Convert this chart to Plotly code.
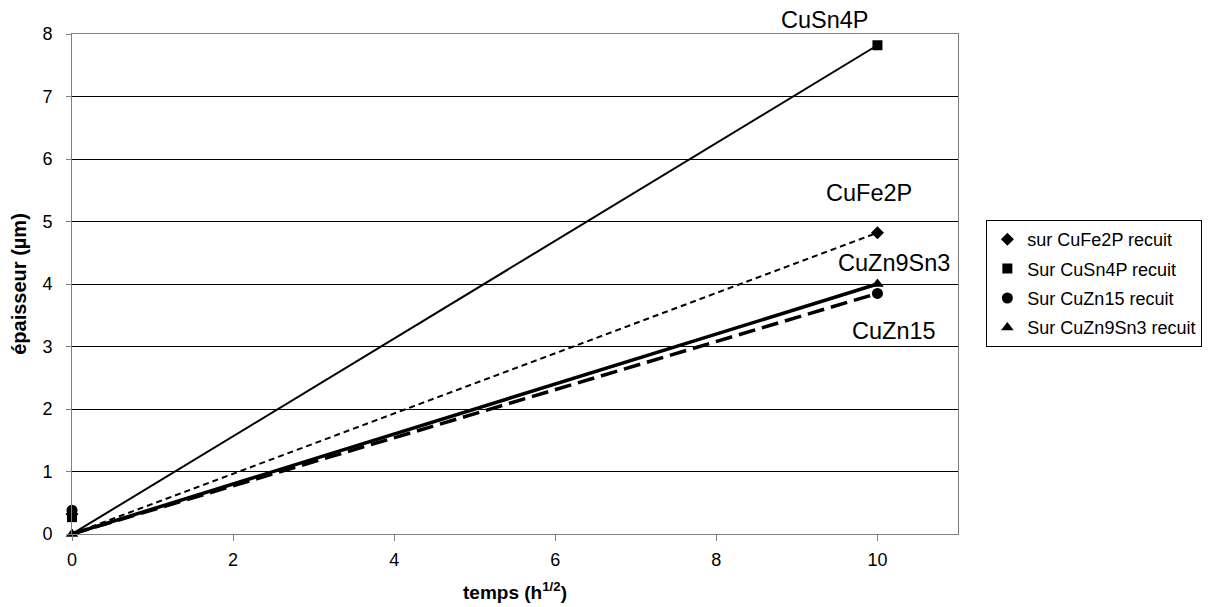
import plotly.graph_objects as go

# Data
series_names = ["sur CuFe2P recuit", "Sur CuSn4P recuit", "Sur CuZn15 recuit", "Sur CuZn9Sn3 recuit"]
short_labels = ["CuFe2P", "CuSn4P", "CuZn15", "CuZn9Sn3"]
x_points = [0, 10]
y_start = [0.32, 0.27, 0.38, 0.0]
y_end = [4.82, 7.82, 3.85, 4.0]
trend_x = [0, 10]
trend_start = [0, 0, 0, 0]

symbols = ["diamond", "square", "circle", "triangle-up"]
marker_sizes = [10, 10, 11, 11]
line_widths = [2, 2, 3.5, 3.5]
line_dashes = ["6px,4px", "solid", "17px,7px", "solid"]

# label positions: (x data, y paper)
label_pos = [(9.89, 0.682), (9.35, 1.028), (10.2, 0.406), (10.2, 0.542)]

FONT = "Liberation Sans, Arial, sans-serif"

fig = go.Figure()

for i, name in enumerate(series_names):
    fig.add_trace(go.Scatter(
        x=trend_x, y=[trend_start[i], y_end[i]], mode="lines",
        line=dict(color="black", width=line_widths[i], dash=line_dashes[i]),
        showlegend=False, hoverinfo="skip", cliponaxis=False))

for i, name in enumerate(series_names):
    fig.add_trace(go.Scatter(
        x=x_points, y=[y_start[i], y_end[i]], mode="markers", name=name,
        marker=dict(symbol=symbols[i], color="black", size=marker_sizes[i]),
        legendgroup=f"g{i}", cliponaxis=False))

for i, lab in enumerate(short_labels):
    fig.add_annotation(x=label_pos[i][0], y=label_pos[i][1], xref="x", yref="paper",
                       text=lab, showarrow=False,
                       xanchor="center", yanchor="middle",
                       font=dict(family=FONT, size=23.5, color="black"))

fig.update_layout(
    width=1203, height=599,
    margin=dict(l=64, r=253, t=26, b=73, autoexpand=False),
    paper_bgcolor="white", plot_bgcolor="white",
    font=dict(family=FONT, color="black", size=18),
    legend=dict(x=1.032, y=0.628, xanchor="left", yanchor="top",
                bordercolor="black", borderwidth=1, bgcolor="white",
                font=dict(size=18), tracegroupgap=3, itemwidth=30),
    xaxis=dict(range=[0, 11], tickvals=[0, 2, 4, 6, 8, 10], showgrid=False, zeroline=False,
               ticks="outside", ticklen=6, tickcolor="#808080", showline=True, linecolor="#808080",
               mirror=True, linewidth=1, automargin=False, ticklabelstandoff=3,
               tickfont=dict(size=18),
               title=dict(text="<b>temps (h<sup>1/2</sup>)</b>", font=dict(size=19), standoff=17)),
    yaxis=dict(range=[0, 8], tickvals=list(range(0, 9)), showgrid=True, gridcolor="black", gridwidth=1,
               zeroline=False, ticks="outside", ticklen=5, tickcolor="#808080", showline=True,
               linecolor="#808080", mirror=True, linewidth=1, automargin=False, ticklabelstandoff=10,
               tickfont=dict(size=18),
               title=dict(text="<b>épaisseur (µm)</b>", font=dict(size=20), standoff=14)),
)

fig.write_html("out.html")
